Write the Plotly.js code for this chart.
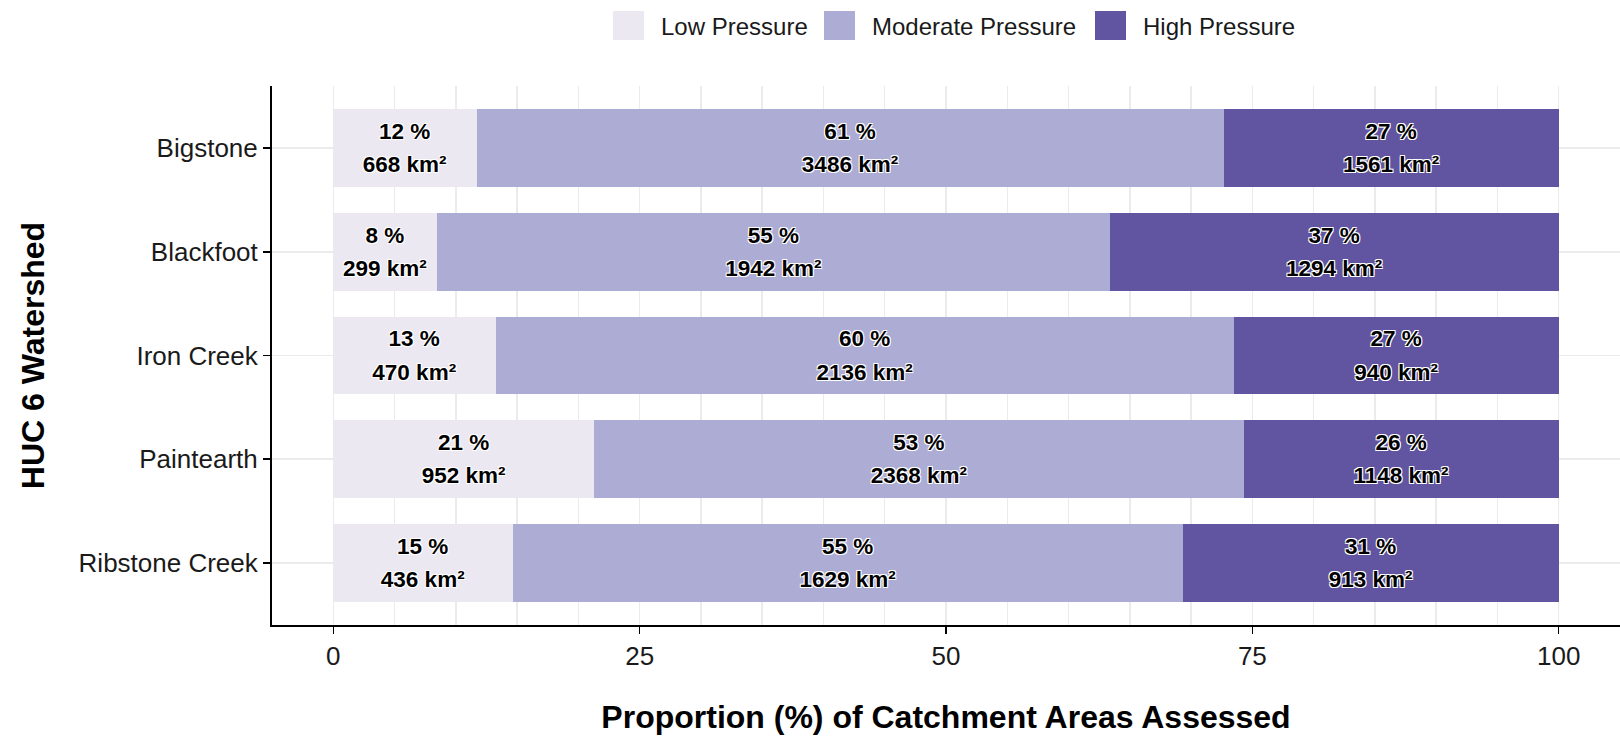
<!DOCTYPE html>
<html>
<head>
<meta charset="utf-8">
<script src="https://cdn.plot.ly/plotly-3.0.1.min.js"></script>
<style>
  html, body { margin: 0; padding: 0; background: #fff; }
  #chart { width: 1620px; height: 741px; }
</style>
</head>
<body>
<div id="chart"></div>
<script>
// ---- data ----
const categories = ['Bigstone', 'Blackfoot', 'Iron Creek', 'Paintearth', 'Ribstone Creek'];
const seriesNames = ['Low Pressure', 'Moderate Pressure', 'High Pressure'];
const lowArea  = [668, 299, 470, 952, 436];       // km²
const modArea  = [3486, 1942, 2136, 2368, 1629];  // km²
const highArea = [1561, 1294, 940, 1148, 913];    // km²
const lowPct   = [12, 8, 13, 21, 15];             // labelled %
const modPct   = [61, 55, 60, 53, 55];
const highPct  = [27, 37, 27, 26, 31];
const xTickVals = [0, 25, 50, 75, 100];

const colors = ['#EBE8F2', '#ADACD4', '#6154A0'];
const FONT = 'Liberation Sans, Arial, Helvetica, sans-serif';

const areas = [lowArea, modArea, highArea];
const pcts = [lowPct, modPct, highPct];
const totals = categories.map((_, i) => lowArea[i] + modArea[i] + highArea[i]);

const traces = areas.map((arr, s) => ({
  type: 'bar',
  orientation: 'h',
  name: seriesNames[s],
  y: categories,
  x: arr.map((v, i) => v / totals[i] * 100),
  marker: { color: colors[s], line: { width: 0 } },
  text: arr.map((v, i) =>
    '<span style="font-size:22.5px">' + pcts[s][i] + ' %</span><br>' +
    '<span style="font-size:22.5px">' + v + ' km²</span>'),
  textposition: 'inside',
  insidetextanchor: 'middle',
  constraintext: 'none',
  textangle: 0,
  textfont: {
    family: FONT, size: 25.5, color: '#000', weight: 'bold',
    shadow: '1px 1px 0 #fff, -1px -1px 0 #fff, 1px -1px 0 #fff, -1px 1px 0 #fff'
  },
  hoverinfo: 'skip',
  showlegend: false
}));

// legend built from the series names and colours
const W = 1620, H = 741, L = 272, R = 0, T = 86, B = 116;
const pw = W - L - R, ph = H - T - B;
const px = v => (v - L) / pw;
const py = v => (H - B - v) / ph;
const legendSwatchX = [613, 824, 1095];
const shapes = [], annotations = [];
seriesNames.forEach((n, s) => {
  shapes.push({
    type: 'rect', xref: 'paper', yref: 'paper',
    x0: px(legendSwatchX[s]), x1: px(legendSwatchX[s] + 31),
    y0: py(40), y1: py(11),
    fillcolor: colors[s], line: { width: 0 }
  });
  annotations.push({
    xref: 'paper', yref: 'paper',
    x: px(legendSwatchX[s] + 46), y: py(26),
    xanchor: 'left', yanchor: 'middle',
    text: n, showarrow: false,
    font: { family: FONT, size: 24, color: '#1a1a1a' }
  });
});

const layout = {
  width: W, height: H,
  margin: { l: L, r: R, t: T, b: B, pad: 0 },
  paper_bgcolor: '#fff', plot_bgcolor: '#fff',
  barmode: 'stack',
  bargap: 0.25,
  showlegend: false,
  font: { family: FONT, color: '#1a1a1a' },
  xaxis: {
    range: [-5, 105],
    tickvals: xTickVals,
    ticktext: xTickVals.map(String),
    tickfont: { family: FONT, size: 26, color: '#1a1a1a' },
    ticks: 'outside', ticklen: 7, tickwidth: 1.5, tickcolor: '#000',
    showline: true, linecolor: '#000', linewidth: 2,
    showgrid: true, gridcolor: '#EBEBEB', gridwidth: 1.5,
    minor: { dtick: 5, tick0: 0, showgrid: true, gridcolor: '#EBEBEB', gridwidth: 1.5, ticks: '' },
    zeroline: false,
    title: { text: '<b>Proportion (%) of Catchment Areas Assessed</b>', font: { family: FONT, size: 32, color: '#000' }, standoff: 35 },
    fixedrange: true
  },
  yaxis: {
    type: 'category',
    range: [4.6, -0.6],
    tickfont: { family: FONT, size: 26, color: '#1a1a1a' },
    ticks: 'outside', ticklen: 7, tickwidth: 1.5, tickcolor: '#000',
    showline: true, linecolor: '#000', linewidth: 2,
    showgrid: true, gridcolor: '#EBEBEB', gridwidth: 1.5,
    zeroline: false,
    title: { text: '<b>HUC 6 Watershed</b>', font: { family: FONT, size: 32, color: '#000' }, standoff: 24 },
    fixedrange: true
  },
  shapes: shapes,
  annotations: annotations
};

Plotly.newPlot('chart', traces, layout, { displayModeBar: false, staticPlot: true });
</script>
</body>
</html>
